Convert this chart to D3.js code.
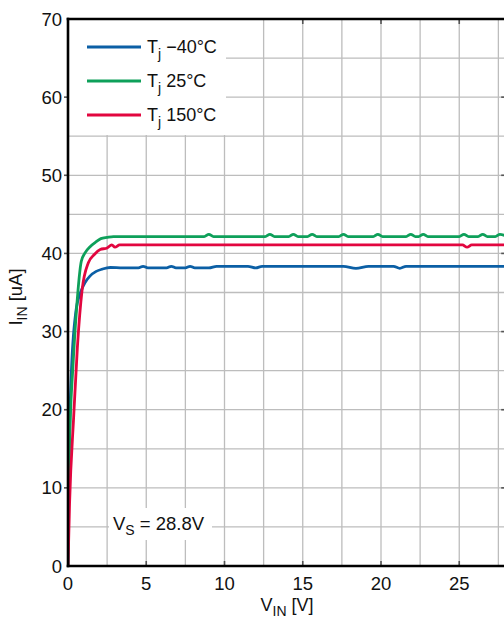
<!DOCTYPE html>
<html>
<head>
<meta charset="utf-8">
<script src="https://cdn.jsdelivr.net/npm/d3@7"></script>
<style>
  body { margin: 0; background: #fff; }
  svg { display: block; font-family: "Liberation Sans", Arial, sans-serif; }
</style>
</head>
<body>
<div id="chart"></div>
<script>
// values: V_IN [V] and I_IN [uA]
const blueX = [0, 0.05, 0.2, 0.5, 0.8, 1.1, 1.4, 1.8, 2.2, 2.7, 3.5, 4.5, 4.8, 5.1, 6.3, 6.6, 6.9, 7.5, 7.8, 8.1, 9.0, 9.5, 11.5, 12.0, 12.4, 17.6, 18.4, 19.2, 20.8, 21.2, 21.6, 28];
const blueY = [0, 12, 24, 32.5, 35, 36.3, 37.1, 37.7, 38.0, 38.2, 38.15, 38.15, 38.35, 38.15, 38.15, 38.35, 38.15, 38.15, 38.35, 38.15, 38.15, 38.35, 38.35, 38.15, 38.35, 38.35, 38.1, 38.35, 38.35, 38.1, 38.35, 38.35];

const greenX = [0, 0.05, 0.15, 0.3, 0.55, 0.85, 1.1, 1.43, 1.8, 2.1, 2.5, 2.9, 8.7, 9.0, 9.3, 12.6, 12.9, 13.2, 14.1, 14.4, 14.7, 15.3, 15.6, 15.9, 17.3, 17.6, 17.9, 19.5, 19.8, 20.1, 21.6, 21.9, 22.2, 22.4, 22.7, 23.0, 25.0, 25.3, 25.6, 26.2, 26.5, 26.8, 27.3, 27.6, 28];
const greenY = [0, 10, 19, 25, 33, 39, 40.1, 40.9, 41.5, 41.9, 42.05, 42.15, 42.15, 42.45, 42.15, 42.15, 42.45, 42.15, 42.15, 42.45, 42.15, 42.15, 42.45, 42.15, 42.15, 42.45, 42.15, 42.15, 42.45, 42.15, 42.15, 42.45, 42.15, 42.15, 42.45, 42.15, 42.15, 42.45, 42.15, 42.15, 42.45, 42.15, 42.15, 42.45, 42.2];

const redX = [0, 0.1, 0.36, 0.6, 0.9, 1.3, 1.7, 2.06, 2.5, 2.8, 3.0, 3.3, 3.6, 25.2, 25.5, 25.8, 28];
const redY = [0, 8, 19, 28, 35.3, 38.8, 39.9, 40.5, 40.7, 41.1, 40.8, 41.1, 41.1, 41.1, 40.8, 41.1, 41.1];

const seriesNames = ["−40°C", "25°C", "150°C"];
const seriesColors = ["#0b5fa5", "#0ea05a", "#e2063f"];
const xTicks = [0, 5, 10, 15, 20, 25];
const yTicks = [0, 10, 20, 30, 40, 50, 60, 70];

const series = [
  { name: seriesNames[0], color: seriesColors[0], pts: blueX.map((x, i) => [x, blueY[i]]) },
  { name: seriesNames[1], color: seriesColors[1], pts: greenX.map((x, i) => [x, greenY[i]]) },
  { name: seriesNames[2], color: seriesColors[2], pts: redX.map((x, i) => [x, redY[i]]) }
];

const svg = d3.select("#chart").append("svg")
    .attr("width", 504)
    .attr("height", 621);

const plotLeft = 68, plotTop = 19, plotBottom = 566;
const xScale = d3.scaleLinear().domain([0, 28]).range([plotLeft, plotLeft + 28 * 15.65]);
const yScale = d3.scaleLinear().domain([0, 70]).range([plotBottom, plotTop]);
const plotRight = xScale(28);

svg.append("clipPath").attr("id", "plotclip")
  .append("rect")
    .attr("x", plotLeft).attr("y", plotTop)
    .attr("width", plotRight - plotLeft).attr("height", plotBottom - plotTop);

// grid
svg.append("g").selectAll("line")
  .data(d3.range(2.5, 28, 2.5))
  .enter().append("line")
    .attr("x1", d => xScale(d)).attr("x2", d => xScale(d))
    .attr("y1", plotTop).attr("y2", plotBottom)
    .attr("stroke", "#bdbdbd").attr("stroke-width", 1.3);
svg.append("g").selectAll("line")
  .data(d3.range(5, 70, 5))
  .enter().append("line")
    .attr("x1", plotLeft).attr("x2", plotRight)
    .attr("y1", d => yScale(d)).attr("y2", d => yScale(d))
    .attr("stroke", "#bdbdbd").attr("stroke-width", 1.3);

// inward ticks on bottom / top / right, outward on left
const tickG = svg.append("g").attr("stroke", "#555").attr("stroke-width", 1.6);
xTicks.slice(1).forEach(t => {
  tickG.append("line").attr("x1", xScale(t)).attr("x2", xScale(t)).attr("y1", plotBottom).attr("y2", plotBottom - 5);
  tickG.append("line").attr("x1", xScale(t)).attr("x2", xScale(t)).attr("y1", plotTop).attr("y2", plotTop + 5);
});
yTicks.slice(1, -1).forEach(t => {
  tickG.append("line").attr("x1", plotRight).attr("x2", plotRight - 5).attr("y1", yScale(t)).attr("y2", yScale(t));
  tickG.append("line").attr("x1", plotLeft).attr("x2", plotLeft - 4).attr("y1", yScale(t)).attr("y2", yScale(t));
});

// legend box
svg.append("rect")
    .attr("x", plotLeft + 1).attr("y", plotTop + 1)
    .attr("width", 157).attr("height", 115)
    .attr("fill", "#fff");

// V_S label
svg.append("rect")
    .attr("x", 109).attr("y", 508)
    .attr("width", 103).attr("height", 32)
    .attr("fill", "#fff");
const vs = svg.append("text")
    .attr("x", 113).attr("y", 530)
    .attr("font-size", 18.5).attr("fill", "#111");
vs.append("tspan").text("V");
vs.append("tspan").attr("font-size", 14).attr("dy", 5).text("S");
vs.append("tspan").attr("dy", -5).text(" = 28.8V");

// curves
const line = d3.line()
    .x(d => xScale(d[0]))
    .y(d => yScale(d[1]))
    .curve(d3.curveMonotoneX);

svg.append("g").attr("clip-path", "url(#plotclip)")
  .selectAll("path")
  .data(series)
  .enter().append("path")
    .attr("d", d => line(d.pts))
    .attr("fill", "none")
    .attr("stroke", d => d.color)
    .attr("stroke-width", 2.8)
    .attr("stroke-linejoin", "round");

// frame
const frame = svg.append("g").attr("stroke", "#000").attr("stroke-width", 2.6);
frame.append("line").attr("x1", plotLeft).attr("x2", plotLeft).attr("y1", plotTop - 1.3).attr("y2", plotBottom + 1.3);
frame.append("line").attr("x1", plotLeft - 1.3).attr("x2", plotRight).attr("y1", plotBottom).attr("y2", plotBottom);
frame.append("line").attr("x1", plotLeft - 1.3).attr("x2", plotRight).attr("y1", plotTop).attr("y2", plotTop);

// legend entries
series.forEach((s, i) => {
  const ly = 47 + i * 34;
  svg.append("line")
      .attr("x1", 87).attr("x2", 141)
      .attr("y1", ly).attr("y2", ly)
      .attr("stroke", s.color).attr("stroke-width", 3);
  const t = svg.append("text")
      .attr("x", 147).attr("y", ly + 6)
      .attr("font-size", 18).attr("fill", "#111");
  t.append("tspan").text("T");
  t.append("tspan").attr("font-size", 14).attr("dy", 6).text("j");
  t.append("tspan").attr("dy", -6).text(" " + s.name);
});

// tick labels
svg.append("g").selectAll("text")
  .data(yTicks)
  .enter().append("text")
    .attr("x", 62).attr("y", d => yScale(d) + 6.5)
    .attr("text-anchor", "end")
    .attr("font-size", 18.5).attr("fill", "#111")
    .text(d => d);
svg.append("g").selectAll("text")
  .data(xTicks)
  .enter().append("text")
    .attr("x", d => xScale(d)).attr("y", 590)
    .attr("text-anchor", "middle")
    .attr("font-size", 18.5).attr("fill", "#111")
    .text(d => d);

// axis titles
const xt = svg.append("text")
    .attr("x", 287).attr("y", 611)
    .attr("text-anchor", "middle")
    .attr("font-size", 18).attr("fill", "#111");
xt.append("tspan").text("V");
xt.append("tspan").attr("font-size", 14).attr("dy", 5).text("IN");
xt.append("tspan").attr("dy", -5).text(" [V]");

const yt = svg.append("text")
    .attr("transform", "translate(22, 297) rotate(-90)")
    .attr("text-anchor", "middle")
    .attr("font-size", 18.5).attr("fill", "#111");
yt.append("tspan").text("I");
yt.append("tspan").attr("font-size", 14).attr("dy", 5).text("IN");
yt.append("tspan").attr("dy", -5).text(" [uA]");
</script>
</body>
</html>
